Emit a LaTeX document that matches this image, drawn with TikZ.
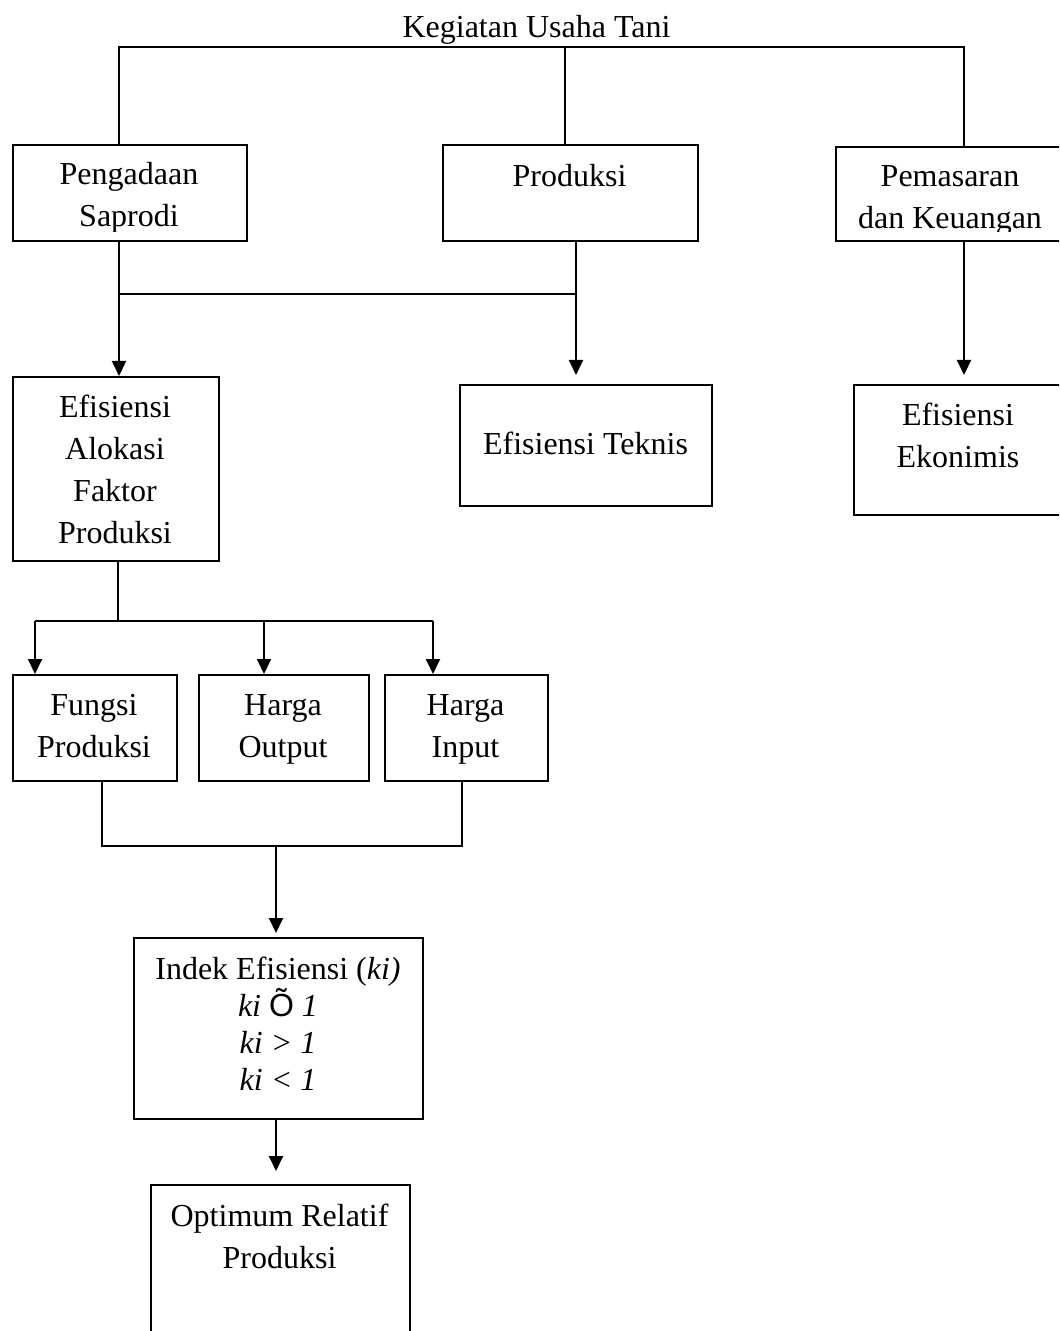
\documentclass[tikz,border=0pt]{standalone}
\usepackage{fontspec}
\setmainfont{Liberation Serif}
\newfontfamily\symfont{Liberation Sans}
\usetikzlibrary{arrows.meta,positioning}
\tikzset{
        % boxes of the scheme
        kotak/.style={draw, rectangle, line width=1pt, inner sep=0pt, anchor=north west},
        % texts in the boxes (placed at the baseline of the last line)
        teks/.style={align=center, inner sep=0pt, anchor=base, font=\fontsize{16}{21}\selectfont},
        % plain lines and arrows
        garis/.style={line width=1pt},
        panah/.style={garis, -{Triangle[width=7pt,length=7.5pt]}}
}

\begin{document}
\begin{tikzpicture}[x=0.5pt, y=-0.5pt]
            \useasboundingbox (0,0) rectangle (1059,1331);
            \clip (0,0) rectangle (1059,1331);
            % boxes
            \node[kotak, minimum width=117pt, minimum height=48pt] (peng) at (12,144) {};
            \node[kotak, minimum width=127.5pt, minimum height=48pt] (prod) at (442,144) {};
            \node[kotak, minimum width=115pt, minimum height=47pt] (pasar) at (835,146) {};
            \node[kotak, minimum width=103pt, minimum height=92pt] (alok) at (12,376) {};
            \node[kotak, minimum width=126pt, minimum height=60.5pt] (tekn) at (459,384) {};
            \node[kotak, minimum width=105pt, minimum height=65pt] (ekon) at (853,384) {};
            \node[kotak, minimum width=82pt, minimum height=53pt] (fung) at (12,674) {};
            \node[kotak, minimum width=85pt, minimum height=53pt] (hout) at (198,674) {};
            \node[kotak, minimum width=81.5pt, minimum height=53pt] (hinp) at (384,674) {};
            \node[kotak, minimum width=144.5pt, minimum height=90.5pt] (indek) at (133,937) {};
            \node[kotak, minimum width=129.5pt, minimum height=80pt] (opt) at (150,1184) {};
            % texts
            \node[teks] (judul) at (536.5,38) {Kegiatan Usaha Tani};
            \begin{scope}
                \clip (0,144) rectangle (1059,232);
                \node[teks] (tpeng) at (129,227) {Pengadaan\\Saprodi};
                \node[teks] (tpasar) at (950,229) {Pemasaran\\dan Keuangan};
            \end{scope}
            \node[teks] (tprod) at (569.5,187) {Produksi};
            \node[teks] (talok) at (115,543) {Efisiensi\\Alokasi\\Faktor\\Produksi};
            \node[teks] (ttekn) at (585.5,454) {Efisiensi Teknis};
            \node[teks] (tekon) at (958,467) {Efisiensi\\Ekonimis};
            \node[teks] (tfung) at (94,757) {Fungsi\\Produksi};
            \node[teks] (thout) at (283,757) {Harga\\Output};
            \node[teks] (thinp) at (465.5,757) {Harga\\Input};
            \node[teks, font=\fontsize{16}{18.5}\selectfont] (tindek) at (278,1090)
                {Indek Efisiensi (\textit{ki)}\\\textit{ki} {\symfont Õ} \textit{1}\\\textit{ki > 1}\\\textit{ki < 1}};
            \node[teks] (topt) at (279.5,1268) {Optimum Relatif\\Produksi};
            % junctions
            \coordinate (jA) at (119,47);
            \coordinate (jB) at (565,47);
            \coordinate (jC) at (964,47);
            \coordinate (jD) at (119,294);
            \coordinate (jE) at (576,294);
            \coordinate (jF) at (118,621);
            \coordinate (cF) at (35,621);
            \coordinate (cO) at (264,621);
            \coordinate (cI) at (433,621);
            \coordinate (kF) at (102,846);
            \coordinate (kT) at (276,846);
            \coordinate (kI) at (462,846);
            % connectors
            \draw[garis] (peng.north -| jA) -- (jA) -- (jC) -- (pasar.north -| jC);
            \draw[garis] (jB) -- (prod.north -| jB);
            \draw[panah] (peng.south -| jD) -- (alok.north -| jD);
            \draw[garis] (jD) -- (jE);
            \draw[panah, shorten >=4.5pt] (prod.south -| jE) -- (tekn.north -| jE);
            \draw[panah, shorten >=4.5pt] (pasar.south -| jC) -- (ekon.north -| jC);
            \draw[garis] (alok.south -| jF) -- (jF);
            \draw[garis] (cF) -- (cI);
            \draw[panah] (cF) -- (fung.north -| cF);
            \draw[panah] (cO) -- (hout.north -| cO);
            \draw[panah] (cI) -- (hinp.north -| cI);
            \draw[garis] (fung.south -| kF) -- (kF) -- (kI) -- (hinp.south -| kI);
            \draw[panah, shorten >=2pt] (kT) -- (indek.north -| kT);
            \draw[panah, shorten >=6.5pt] (indek.south -| kT) -- (opt.north -| kT);
\end{tikzpicture}
\end{document}
